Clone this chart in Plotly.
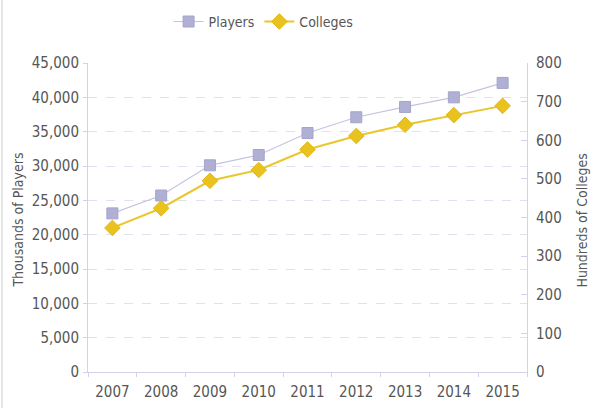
import plotly.graph_objects as go

# Season data
years = ["2007", "2008", "2009", "2010", "2011", "2012", "2013", "2014", "2015"]
players = [23100, 25700, 30100, 31600, 34800, 37100, 38600, 40000, 42100]   # thousands
colleges = [373, 424, 495, 523, 576, 611, 640, 665, 689]                    # hundreds

left_ticks = [0, 5000, 10000, 15000, 20000, 25000, 30000, 35000, 40000, 45000]
left_labels = ["0", "5,000", "10,000", "15,000", "20,000", "25,000",
               "30,000", "35,000", "40,000", "45,000"]
right_ticks = [0, 100, 200, 300, 400, 500, 600, 700, 800]
right_labels = [str(v) for v in right_ticks]

FONT = "DejaVu Sans Condensed, Liberation Sans Narrow, sans-serif"
TXT = "#565656"
AXIS = "#d2d2ea"
GRID = "#e0e0f0"

fig = go.Figure()

fig.add_trace(go.Scatter(
    x=years, y=players, name="Players", mode="lines+markers",
    line=dict(color="#c4c4e2", width=1.2),
    marker=dict(symbol="square", size=11, color="#b0b0d4",
                line=dict(color="#a4a4ca", width=1)),
    yaxis="y",
))
fig.add_trace(go.Scatter(
    x=years, y=colleges, name="Colleges", mode="lines+markers",
    line=dict(color="#eac62c", width=2),
    marker=dict(symbol="diamond", size=12, color="#e9c21e",
                line=dict(color="#e0b818", width=1)),
    yaxis="y2",
))

fig.update_layout(
    width=600, height=408,
    margin=dict(l=88, r=73, t=63, b=36, autoexpand=False),
    paper_bgcolor="white", plot_bgcolor="white",
    font=dict(family=FONT, size=15, color=TXT),
    showlegend=True,
    legend=dict(orientation="h", x=0.40, xanchor="center", y=1.133, yanchor="middle",
                font=dict(size=14, color=TXT), itemwidth=30, bgcolor="rgba(0,0,0,0)"),
    xaxis=dict(
        type="category", range=[-0.5, 8.5], showgrid=False, automargin=False,
        showline=True, linecolor=AXIS, linewidth=1,
        ticks="outside", tickson="boundaries", ticklen=4, tickcolor=AXIS,
        tickfont=dict(size=15, color=TXT), ticklabelstandoff=6,
    ),
    yaxis=dict(
        range=[0, 45000], tickvals=left_ticks, ticktext=left_labels, automargin=False,
        showgrid=True, gridcolor=GRID, griddash="dash", gridwidth=1,
        showline=True, linecolor=AXIS, linewidth=1,
        ticks="outside", ticklen=4, tickcolor=AXIS,
        tickfont=dict(size=15, color=TXT), ticklabelstandoff=1,
        zeroline=False,
    ),
    yaxis2=dict(
        range=[0, 800], tickvals=right_ticks, ticktext=right_labels, automargin=False,
        overlaying="y", side="right", showgrid=False,
        showline=True, linecolor=AXIS, linewidth=1,
        ticks="inside", ticklen=6, tickcolor=AXIS,
        tickfont=dict(size=15, color=TXT), ticklabelstandoff=5,
        zeroline=False,
    ),
    annotations=[
        dict(text="Thousands of Players", textangle=-90, xref="paper", yref="paper",
             x=(18 - 88) / 439, y=0.49, xanchor="center", yanchor="middle",
             showarrow=False, font=dict(size=14, color=TXT)),
        dict(text="Hundreds of Colleges", textangle=-90, xref="paper", yref="paper",
             x=(582 - 88) / 439, y=0.49, xanchor="center", yanchor="middle",
             showarrow=False, font=dict(size=14, color=TXT)),
    ],
    shapes=[
        dict(type="line", xref="paper", yref="paper",
             x0=(2 - 88) / 439, x1=(2 - 88) / 439, y0=-0.2, y1=1.3,
             line=dict(color="#dcdcdc", width=1.5)),
    ],
)

fig.write_html("out.html")
